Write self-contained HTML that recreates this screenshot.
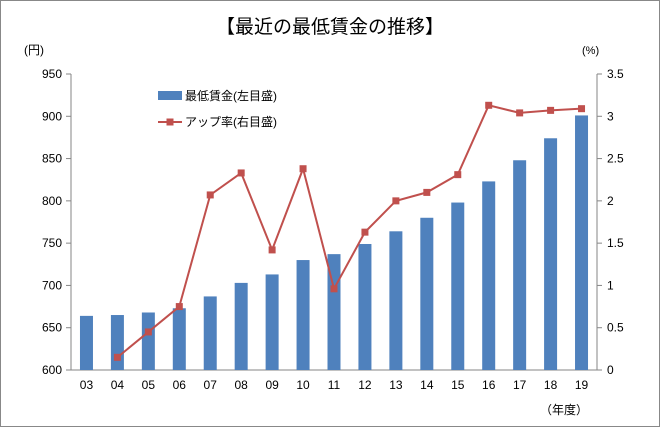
<!DOCTYPE html>
<html><head><meta charset="utf-8"><style>
html,body{margin:0;padding:0;background:#fff;}
svg{display:block;font-family:"Liberation Sans","Noto Sans CJK JP",sans-serif;}
</style></head><body>
<svg id="c" width="660" height="427" viewBox="0 0 660 427" xmlns="http://www.w3.org/2000/svg">
<rect x="0.5" y="0.5" width="659" height="426" fill="#fff" stroke="#888"/>
<text x="330" y="33" font-size="19" text-anchor="middle" fill="#000">【最近の最低賃金の推移】</text>
<text x="24" y="54" font-size="12">(円)</text>
<text x="582" y="54" font-size="11">(%)</text>
<text x="540" y="414" font-size="12">（年度）</text>
<g id="g"></g>
<rect x="158" y="91" width="24" height="9" fill="#4f81bd"/>
<text x="185" y="100" font-size="12">最低賃金(左目盛)</text>
<line x1="158" y1="122" x2="182" y2="122" stroke="#c0504d" stroke-width="2"/>
<rect x="166.5" y="118.5" width="7" height="7" fill="#c0504d"/>
<text x="185" y="126" font-size="12">アップ率(右目盛)</text>
</svg>
<script>
var g=document.getElementById('g'),s='';
function yl(v){return 370-(v-600)*296/350;}
function yr(p){return 370-p*296/3.5;}
s+='<line x1="71" y1="74" x2="71" y2="370" stroke="#868686"/>';
s+='<line x1="597" y1="74" x2="597" y2="370" stroke="#868686"/>';
s+='<line x1="71" y1="370" x2="597" y2="370" stroke="#868686"/>';
for(var i=0;i<=7;i++){var y=yl(600+i*50);s+='<line x1="66" y1="'+y+'" x2="71" y2="'+y+'" stroke="#868686"/>';
s+='<text x="62" y="'+(y+4)+'" font-size="12" text-anchor="end">'+(600+i*50)+'</text>';
s+='<line x1="597" y1="'+y+'" x2="602" y2="'+y+'" stroke="#868686"/>';
s+='<text x="607" y="'+(y+4)+'" font-size="12">'+(i*0.5)+'</text>';}
var b=[664,665,668,673,687,703,713,730,737,749,764,780,798,823,848,874,901];
var p=[null,0.15,0.45,0.75,2.07,2.33,1.42,2.38,0.96,1.63,2.0,2.1,2.31,3.13,3.04,3.07,3.09];
var pts=[];
for(var i=0;i<17;i++){var cx=71+526/17*(i+0.5);var y=yl(b[i]);
s+='<rect x="'+(cx-6.5)+'" y="'+y+'" width="13" height="'+(370-y)+'" fill="#4f81bd"/>';
var lab=(i+3<10?'0':'')+(i+3);s+='<text x="'+cx+'" y="389" font-size="12" text-anchor="middle">'+lab+'</text>';
if(p[i]!=null)pts.push([cx,yr(p[i])]);}
s+='<polyline points="'+pts.map(function(a){return a.join(',')}).join(' ')+'" fill="none" stroke="#c0504d" stroke-width="2"/>';
pts.forEach(function(a){s+='<rect x="'+(a[0]-3.5)+'" y="'+(a[1]-3.5)+'" width="7" height="7" fill="#c0504d"/>';});
g.innerHTML=s;
</script>
</body></html>
